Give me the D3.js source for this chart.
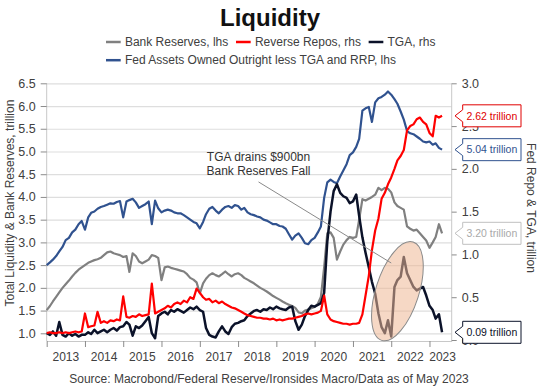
<!DOCTYPE html>
<meta charset="utf-8">
<style>
body { margin: 0; background: #fff; }
svg { display: block; font-family: "Liberation Sans", Arial, sans-serif; }
</style>
<body>
<svg id="chart" width="548" height="386"></svg>
</body>
<script src="https://cdnjs.cloudflare.com/ajax/libs/d3/7.8.5/d3.min.js"></script>
<script>
// monthly readings, Jan 2013 .. May 2023
var startMonth = new Date(2013, 0, 1);

// Fed assets owned outright less TGA and RRP, lhs (trillion)
var fedAssets = [
  2.50, 2.56, 2.62, 2.70, 2.80, 2.90, 3.05, 3.10, 3.22, 3.28, 3.40, 3.47,
  3.28, 3.55, 3.65, 3.68, 3.74, 3.78, 3.80, 3.83, 3.86, 3.85, 3.89, 3.91,
  3.55, 3.90, 3.93, 3.96, 3.88, 3.76, 3.80, 3.84, 3.90, 3.40, 3.92, 3.75,
  3.66, 3.70, 3.72, 3.70, 3.66, 3.64, 3.64, 3.60, 3.55, 3.50, 3.45, 3.42,
  3.31, 3.45, 3.62, 3.74, 3.78, 3.70, 3.64, 3.72, 3.78, 3.80, 3.76, 3.82,
  3.80, 3.72, 3.76, 3.66, 3.62, 3.60, 3.57, 3.55, 3.50, 3.48, 3.44, 3.40,
  3.40, 3.36, 3.35, 3.30, 3.18, 3.06, 3.15, 3.20, 3.10, 2.98, 2.96, 3.05,
  3.10, 3.22, 3.35, 3.98, 4.32, 4.38, 4.33, 4.30, 4.45, 4.58, 4.72, 4.92,
  4.98, 5.10, 5.28, 5.90, 5.95, 5.98, 5.65, 6.08, 6.17, 6.20, 6.25, 6.32,
  6.25, 6.15, 6.05, 5.88, 5.70, 5.45, 5.40, 5.38, 5.33, 5.28, 5.22, 5.20,
  5.22, 5.15, 5.18, 5.08, 5.04
];

// Bank reserves, lhs
var reserves = [
  1.51, 1.60, 1.70, 1.80, 1.90, 2.00, 2.08, 2.16, 2.25, 2.33, 2.40, 2.45,
  2.50, 2.55, 2.58, 2.61, 2.63, 2.66, 2.72, 2.78, 2.80, 2.76, 2.74, 2.72,
  2.68, 2.70, 2.35, 2.76, 2.70, 2.58, 2.54, 2.58, 2.62, 2.72, 2.70, 2.66,
  2.17, 2.45, 2.47, 2.44, 2.42, 2.40, 2.38, 2.36, 2.30, 2.22, 2.18, 2.12,
  1.88, 2.10, 2.20, 2.28, 2.32, 2.28, 2.25, 2.30, 2.36, 2.30, 2.25, 2.30,
  2.32, 2.28, 2.22, 2.18, 2.14, 2.10, 2.05, 2.00, 1.96, 1.92, 1.87, 1.82,
  1.78, 1.74, 1.70, 1.66, 1.63, 1.60, 1.56, 1.46, 1.44, 1.50, 1.52, 1.55,
  1.58, 1.65, 1.80, 2.45, 3.20, 3.22, 3.10, 2.62, 2.80, 2.95, 3.05, 3.12,
  3.10, 3.12, 3.50, 3.95, 3.92, 3.96, 4.00, 4.05, 4.20, 4.15, 4.20, 4.18,
  4.10, 3.88, 3.80, 3.76, 3.72, 3.35, 3.30, 3.26, 3.28, 3.20, 3.12, 3.04,
  2.88, 3.00, 3.12, 3.40, 3.20
];

// Reverse repos, rhs
var reverseRepo = [
  0.08, 0.09, 0.08, 0.08, 0.09, 0.08, 0.09, 0.08, 0.09, 0.10, 0.09, 0.10,
  0.31, 0.15, 0.16, 0.17, 0.33, 0.20, 0.22, 0.20, 0.23, 0.22, 0.24, 0.23,
  0.51, 0.27, 0.26, 0.28, 0.27, 0.30, 0.28, 0.29, 0.30, 0.66, 0.31, 0.33,
  0.35, 0.37, 0.40, 0.38, 0.42, 0.44, 0.42, 0.46, 0.44, 0.50, 0.48, 0.60,
  0.55, 0.50, 0.47, 0.48, 0.44, 0.46, 0.43, 0.45, 0.42, 0.40, 0.38, 0.37,
  0.35, 0.33, 0.31, 0.29, 0.28, 0.27, 0.26, 0.26, 0.25, 0.25, 0.24, 0.25,
  0.23, 0.24, 0.23, 0.24, 0.25, 0.25, 0.26, 0.27, 0.28, 0.30, 0.31, 0.30,
  0.31, 0.32, 0.34, 0.52, 0.30, 0.24, 0.22, 0.21, 0.20, 0.19, 0.19, 0.18,
  0.19, 0.19, 0.20, 0.30, 0.52, 0.75, 1.05, 1.28, 1.42, 1.65, 1.72, 1.82,
  1.90, 2.00, 2.10, 2.15, 2.22, 2.45, 2.50, 2.52, 2.58, 2.60, 2.55, 2.52,
  2.42, 2.38, 2.62, 2.60, 2.62
];

// Treasury General Account, rhs
var tga = [
  0.08, 0.06, 0.10, 0.05, 0.21, 0.06, 0.04, 0.08, 0.05, 0.07, 0.04, 0.06,
  0.06, 0.09, 0.07, 0.12, 0.08, 0.10, 0.12, 0.09, 0.12, 0.14, 0.11, 0.15,
  0.16, 0.21, 0.18, 0.05, 0.16, 0.14, 0.17, 0.22, 0.27, 0.08, 0.02, 0.28,
  0.31, 0.33, 0.30, 0.35, 0.33, 0.36, 0.34, 0.32, 0.35, 0.38, 0.36, 0.39,
  0.35, 0.33, 0.14, 0.06, 0.04, 0.03, 0.10, 0.16, 0.10, 0.07, 0.15, 0.19,
  0.20, 0.22, 0.23, 0.28, 0.31, 0.34, 0.35, 0.33, 0.36, 0.35, 0.38, 0.36,
  0.39, 0.37, 0.36, 0.35, 0.38, 0.39, 0.22, 0.12, 0.18, 0.28, 0.35, 0.40,
  0.39, 0.41, 0.43, 0.55, 1.15, 1.50, 1.74, 1.82, 1.72, 1.68, 1.66, 1.60,
  1.62, 1.70, 1.45, 1.20, 1.02, 0.85, 0.68, 0.54, 0.31, 0.15, 0.08, 0.23,
  0.04, 0.62, 0.70, 0.74, 0.97, 0.78, 0.70, 0.62, 0.58, 0.60, 0.62, 0.52,
  0.40, 0.35, 0.25, 0.30, 0.09
];

var years = d3.range(2013, 2024);
var leftTicks = [1.0, 1.5, 2.0, 2.5, 3.0, 3.5, 4.0, 4.5, 5.0, 5.5, 6.0, 6.5];
var rightTicks = [0.0, 0.5, 1.0, 1.5, 2.0, 2.5, 3.0];

var months = fedAssets.map(function(d, i) { return d3.timeMonth.offset(startMonth, i); });

var series = [
  {name: 'Fed Assets Owned Outright less TGA and RRP, lhs', values: fedAssets, axis: 'L', color: '#30528f', text: '#30528f', border: '#30528f', w: 2.2},
  {name: 'Bank Reserves, lhs', values: reserves, axis: 'L', color: '#808080', text: '#a9a9a9', border: '#c0c0c0', w: 2.2},
  {name: 'TGA, rhs', values: tga, axis: 'R', color: '#0b1229', text: '#0b1229', border: '#0b1229', w: 2.5},
  {name: 'Reverse Repos, rhs', values: reverseRepo, axis: 'R', color: '#ff0000', text: '#e00000', border: '#e00000', w: 2.2}
];

var svg = d3.select('#chart');
var L = 46.7, R = 451.7, B = 341;

var x = d3.scaleTime().domain([startMonth, new Date(2023, 7, 1)]).range([L, R]);
var yL = d3.scaleLinear().domain([1, 6.5]).range([333.3, 83.3]);
var yR = d3.scaleLinear().domain([0, 3]).range([340, 83.3]);

svg.append('rect').attr('width', 548).attr('height', 386).attr('fill', '#fff');

// gridlines
svg.append('g')
  .attr('transform', 'translate(' + L + ',0)')
  .call(d3.axisLeft(yL).tickValues(leftTicks).tickSize(-(R - L)).tickFormat(''))
  .call(function(g) { g.select('.domain').remove(); })
  .selectAll('line').attr('stroke', '#dedede').attr('stroke-width', 1.2);

// axes
var fmt = d3.format('.1f');
var gl = svg.append('g')
  .attr('transform', 'translate(' + L + ',0)')
  .call(d3.axisLeft(yL).tickValues(leftTicks).tickFormat(fmt).tickSize(6).tickPadding(5).tickSizeOuter(0));
var gr = svg.append('g')
  .attr('transform', 'translate(' + R + ',0)')
  .call(d3.axisRight(yR).tickValues(rightTicks).tickFormat(fmt).tickSize(5).tickPadding(5).tickSizeOuter(0));
var gb = svg.append('g')
  .attr('transform', 'translate(0,' + B + ')')
  .call(d3.axisBottom(x).tickValues(years.map(function(y) { return new Date(y, 0, 1); }))
    .tickFormat('').tickSize(6).tickSizeOuter(0));

[gl, gr, gb].forEach(function(g) {
  g.select('.domain').attr('stroke', '#c8c8c8');
  g.selectAll('.tick line').attr('stroke', '#8c8c8c');
  g.selectAll('.tick text').attr('fill', '#404040').style('font-size', '12.5px')
    .style('font-family', '"Liberation Sans", Arial, sans-serif');
});
gr.select('.domain').attr('d', 'M0,' + 83.3 + 'V' + B);
gl.select('.domain').attr('d', 'M0,' + 83.3 + 'V' + B);

// year labels centred in each year span
svg.append('g').selectAll('text')
  .data(years)
  .join('text')
  .attr('x', function(y) {
    var a = x(new Date(y, 0, 1)), b = Math.min(x(new Date(y + 1, 0, 1)), R + 4);
    return (a + b) / 2;
  })
  .attr('y', 361)
  .attr('text-anchor', 'middle')
  .attr('fill', '#404040')
  .style('font-size', '12px')
  .text(function(y) { return y; });

// lines
var lineL = d3.line().x(function(d, i) { return x(months[i]); }).y(function(d) { return yL(d); });
var lineR = d3.line().x(function(d, i) { return x(months[i]); }).y(function(d) { return yR(d); });

svg.append('g').selectAll('path')
  .data(series)
  .join('path')
  .attr('d', function(s) { return (s.axis === 'L' ? lineL : lineR)(s.values); })
  .attr('fill', 'none')
  .attr('stroke', function(s) { return s.color; })
  .attr('stroke-width', function(s) { return s.w; })
  .attr('stroke-linejoin', 'round');

// highlight ellipse over the TGA rebuild
var ellipseAt = {date: new Date(2022, 2, 1), value: 0.57};
svg.append('ellipse')
  .attr('transform', 'translate(' + x(ellipseAt.date) + ',' + yR(ellipseAt.value) + ') rotate(17.8)')
  .attr('rx', 21.5).attr('ry', 51.6)
  .attr('fill', 'rgb(238,184,150)').attr('fill-opacity', 0.55)
  .attr('stroke', '#8a8a8a').attr('stroke-width', 1);

// annotation
var noteAt = {date: new Date(2018, 6, 15), value: 4.79};
var noteLine = {from: [new Date(2018, 6, 15), 4.33], to: [new Date(2022, 0, 1), 0.90]};
svg.append('line')
  .attr('x1', x(noteLine.from[0])).attr('y1', yL(noteLine.from[1]))
  .attr('x2', x(noteLine.to[0])).attr('y2', yR(noteLine.to[1]))
  .attr('stroke', '#8a8a8a').attr('stroke-width', 1);
var note = svg.append('text')
  .attr('x', x(noteAt.date)).attr('y', yL(noteAt.value))
  .attr('text-anchor', 'middle').attr('fill', '#333').style('font-size', '12px');
note.append('tspan').attr('x', x(noteAt.date)).text('TGA drains $900bn');
note.append('tspan').attr('x', x(noteAt.date)).attr('dy', 14).text('Bank Reserves Fall');

// last-value callouts
var bx0 = 462.7, bx1 = 521, hh = 11, ah = 6, tipX = R + 3.3;
var callouts = svg.append('g').selectAll('g')
  .data(series)
  .join('g')
  .attr('transform', function(s) {
    var v = s.values[s.values.length - 1];
    return 'translate(0,' + (s.axis === 'L' ? yL(v) : yR(v)) + ')';
  });
callouts.append('path')
  .attr('d', 'M' + tipX + ',0L' + bx0 + ',' + (-ah) + 'V' + (-hh) + 'H' + bx1 + 'V' + hh + 'H' + bx0 + 'V' + ah + 'Z')
  .attr('fill', '#fff')
  .attr('stroke', function(s) { return s.border; })
  .attr('stroke-width', 1);
callouts.append('text')
  .attr('x', (bx0 + bx1) / 2).attr('y', 3.8)
  .attr('text-anchor', 'middle')
  .attr('fill', function(s) { return s.text; })
  .style('font-size', '10.5px')
  .text(function(s) { return d3.format('.2f')(s.values[s.values.length - 1]) + ' trillion'; });

// axis titles
svg.append('text')
  .attr('transform', 'translate(14,203) rotate(-90)')
  .attr('text-anchor', 'middle').attr('fill', '#404040').style('font-size', '12px')
  .text('Total Liquidity & Bank Reserves, trillion');
svg.append('text')
  .attr('transform', 'translate(527,208) rotate(90)')
  .attr('text-anchor', 'middle').attr('fill', '#404040').style('font-size', '12px')
  .text('Fed Repo & TGA, trillion');

// title
svg.append('text')
  .attr('x', 270).attr('y', 26)
  .attr('text-anchor', 'middle').attr('fill', '#111')
  .style('font-size', '24px').style('font-weight', 'bold')
  .text('Liquidity');

// legend
var legendRows = [
  [series[1], series[3], series[2]],
  [series[0]]
];
legendRows.forEach(function(row, r) {
  var cx = 106, cy = 42 + r * 18.2;
  row.forEach(function(s) {
    svg.append('line')
      .attr('x1', cx).attr('x2', cx + 14.7).attr('y1', cy).attr('y2', cy)
      .attr('stroke', s.color).attr('stroke-width', 2.5);
    var t = svg.append('text')
      .attr('x', cx + 18.9).attr('y', cy + 4.2)
      .attr('fill', '#404040').style('font-size', '12px')
      .text(s.name);
    cx += 18.9 + t.node().getComputedTextLength() + 7.7;
  });
});

// source
svg.append('text')
  .attr('x', 269).attr('y', 383)
  .attr('text-anchor', 'middle').attr('fill', '#404040').style('font-size', '12px')
  .text('Source: Macrobond/Federal Reserve/Ironsides Macro/Data as of May 2023');
</script>
